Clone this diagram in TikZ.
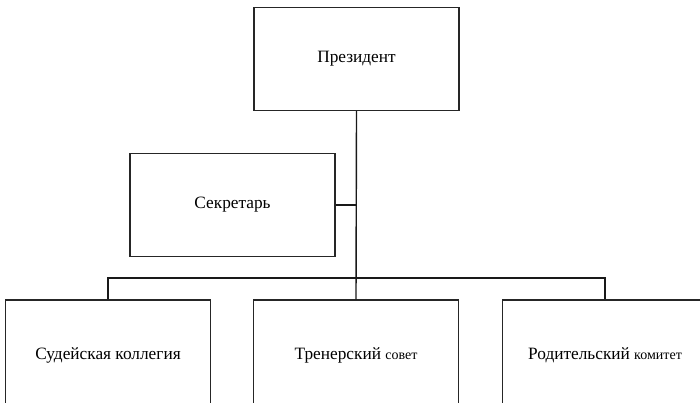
\documentclass[tikz,border=0pt]{standalone}
\usepackage{fontspec}
\setmainfont{Liberation Serif}
\begin{document}
\begin{tikzpicture}[x=1pt,y=-1pt,
    unit/.style={draw=black!85,line width=1.4pt,minimum width=205pt,minimum height=103pt,
                 inner sep=0pt,font=\fontsize{17.3}{19}\selectfont},
    link/.style={draw=black!90,line width=1.4pt}]
    \useasboundingbox (0,0) rectangle (700,402);
    \clip (0,0) rectangle (700,402);

    \node[unit] (pres) at (356.5,59) {Президент};
    \node[unit] (secr) at (232.5,205) {Секретарь};

    \node[unit,minimum height=110pt] (judges) at (108,355) {Судейская коллегия};
    \node[unit,minimum height=110pt] (coach) at (356,355) {Тренерский {\fontsize{14}{16}\selectfont совет}};
    \node[unit,minimum height=110pt] (parents) at (605,355) {Родительский {\fontsize{14}{16}\selectfont комитет}};

    \coordinate (bus) at (356,278);

    \draw[link] (pres.south) -- (coach.north);
    \draw[link] (secr.east) -- (secr.east -| pres.south);
    \draw[link] (judges.north) |- (bus) -| (parents.north);
  \end{tikzpicture}
\end{document}
